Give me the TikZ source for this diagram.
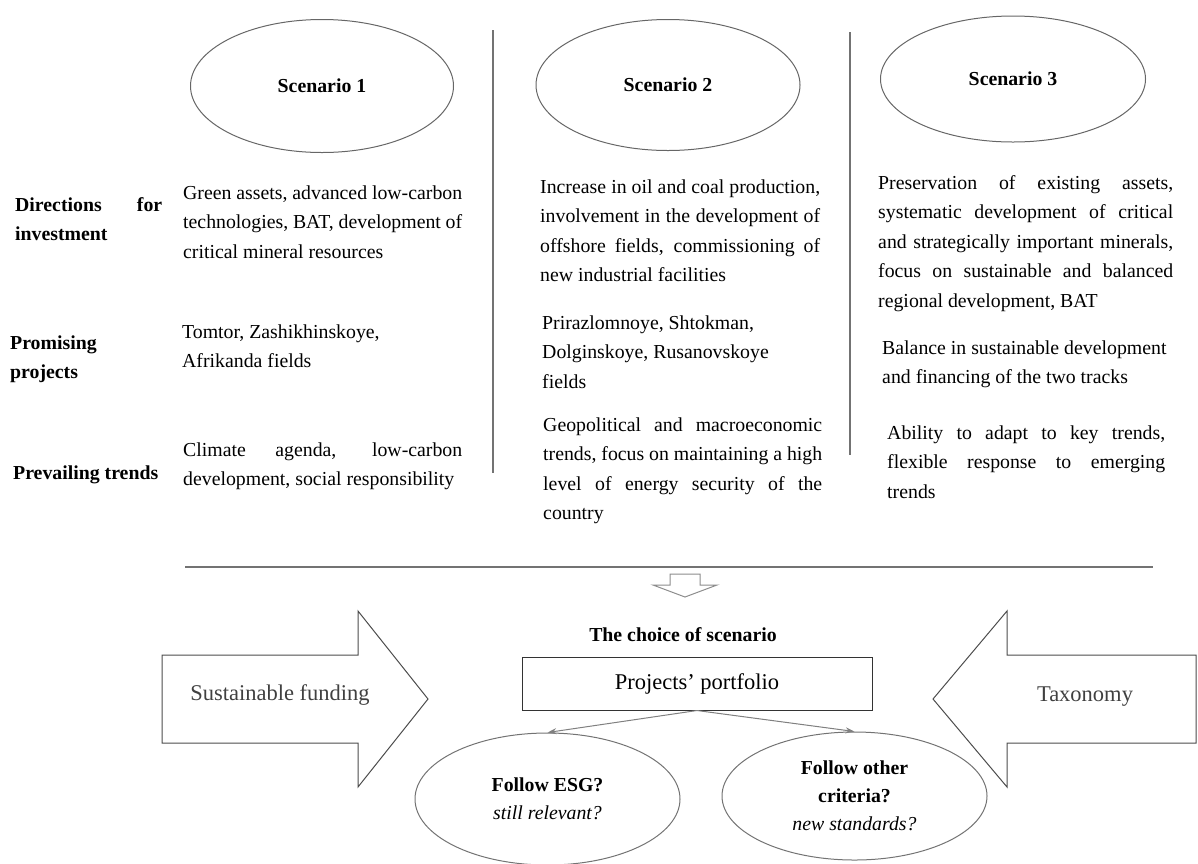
\documentclass[tikz,border=0pt]{standalone}
\usepackage{fontspec}
\setmainfont{Liberation Serif}
\usetikzlibrary{arrows.meta,shapes.geometric}
\newcommand\jline[1]{\makebox[\linewidth][s]{#1}}
\begin{document}
\begin{tikzpicture}[x=1pt,y=-1pt,
  body/.style={anchor=base west,inner sep=0pt,font=\fontsize{19.8}{29.6}\selectfont},
  lab/.style={anchor=base west,inner sep=0pt,font=\fontsize{19.8}{29.6}\selectfont\bfseries},
  scen/.style={ellipse,draw=black!60,line width=1pt,inner sep=0pt,font=\fontsize{19.8}{24}\selectfont\bfseries},
  sepline/.style={draw=black!55,line width=1.1pt},
  bigarrow/.style={draw=black!70,line width=1pt},
  bigtxt/.style={font=\fontsize{22.5}{27}\selectfont,text=black!75},
  question/.style={ellipse,draw=black!55,line width=1pt,inner sep=0pt,align=center,font=\fontsize{19.8}{28}\selectfont},
  link/.style={draw=black!50,line width=1pt,-{Stealth[length=9pt,width=6pt]}}
]
\useasboundingbox (0,0) rectangle (1198,863);

% scenario ellipses
\node[scen,minimum width=263pt,minimum height=133pt] (s1) at (322,86) {Scenario 1};
\node[scen,minimum width=264pt,minimum height=131pt] (s2) at (668,85) {Scenario 2};
\node[scen,minimum width=265pt,minimum height=126pt] (s3) at (1013,79) {Scenario 3};

% separators
\coordinate (v1t) at (493,30);  \coordinate (v1b) at (493,473);
\coordinate (v2t) at (850,32);  \coordinate (v2b) at (850,455);
\coordinate (hl) at (185,567);  \coordinate (hr) at (1153,567);
\draw[sepline] (v1t) -- (v1b);
\draw[sepline] (v2t) -- (v2b);
\draw[sepline] (hl) -- (hr);

% row labels
\node[lab] (l1) at (15,211) {\parbox[t]{147pt}{\jline{Directions for}\\investment}};
\node[lab] (l2) at (10,349) {\parbox[t]{147pt}{Promising\\projects}};
\node[lab] (l3) at (13,479) {Prevailing trends};

% column 1
\node[body] (c1a) at (183,199) {\parbox[t]{279pt}{\jline{Green assets, advanced low-carbon}\\\jline{technologies, BAT, development of}\\critical mineral resources}};
\node[body] (c1b) at (182,338) {\parbox[t]{279pt}{Tomtor, Zashikhinskoye,\\Afrikanda fields}};
\node[body] (c1c) at (183,456) {\parbox[t]{279pt}{\jline{Climate agenda, low-carbon}\\development, social responsibility}};

% column 2
\node[body] (c2a) at (540,193) {\parbox[t]{280pt}{\jline{Increase in oil and coal production,}\\\jline{involvement in the development of}\\\jline{offshore fields, commissioning of}\\new industrial facilities}};
\node[body] (c2b) at (542,329) {\parbox[t]{280pt}{Prirazlomnoye, Shtokman,\\Dolginskoye, Rusanovskoye\\fields}};
\node[body] (c2c) at (543,431) {\parbox[t]{279pt}{\jline{Geopolitical and macroeconomic}\\\jline{trends, focus on maintaining a high}\\\jline{level of energy security of the}\\country}};

% column 3
\node[body] (c3a) at (878,189) {\parbox[t]{295pt}{\jline{Preservation of existing assets,}\\\jline{systematic development of critical}\\\jline{and strategically important minerals,}\\\jline{focus on sustainable and balanced}\\regional development, BAT}};
\node[body] (c3b) at (882,354) {\parbox[t]{295pt}{Balance in sustainable development\\and financing of the two tracks}};
\node[body] (c3c) at (887,439) {\parbox[t]{278pt}{\jline{Ability to adapt to key trends,}\\\jline{flexible response to emerging}\\trends}};

% small hollow down arrow
\draw[draw=black!45,line width=1pt] (670,574) -- (700,574) -- (700,585) -- (717,585) -- (685,597) -- (653,585) -- (670,585) -- cycle;

% choice
\node[font=\fontsize{19.8}{24}\selectfont\bfseries] (choice) at (683,635) {The choice of scenario};
\node[draw=black!80,line width=1pt,minimum width=350pt,minimum height=53pt,inner sep=0pt,font=\fontsize{22.5}{27}\selectfont] (port) at (697,683.5) {Projects’ portfolio};

% big arrows
\draw[bigarrow] (162,655) -- (358,655) -- (358,611) -- (428,699) -- (358,787) -- (358,743) -- (162,743) -- cycle;
\node[bigtxt] (sf) at (280,695) {Sustainable funding};
\draw[bigarrow] (1196,655) -- (1007,655) -- (1007,611) -- (933,699) -- (1007,787) -- (1007,743) -- (1196,743) -- cycle;
\node[bigtxt] (tx) at (1085,697) {Taxonomy};

% bottom ellipses
\node[question,minimum width=265pt,minimum height=132pt] (esg) at (547.5,799) {\textbf{Follow ESG?}\\\textit{still relevant?}};
\node[question,minimum width=265pt,minimum height=128pt] (oth) at (854.5,796) {\textbf{Follow other}\\\textbf{criteria?}\\\textit{new standards?}};

\draw[link] (port.south) -- (esg.north);
\draw[link] (port.south) -- (oth.north);
\end{tikzpicture}
\end{document}
